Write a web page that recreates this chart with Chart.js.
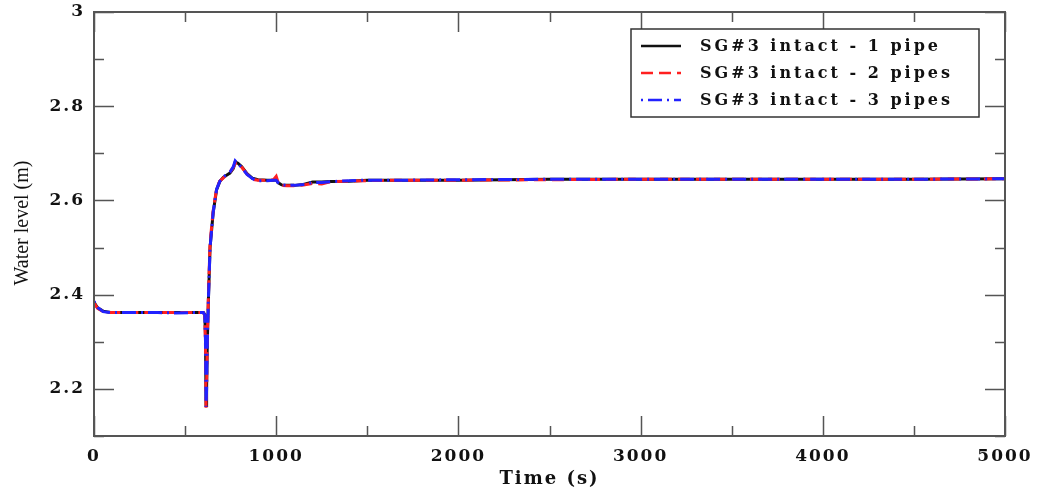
<!DOCTYPE html>
<html>
<head>
<meta charset="utf-8">
<script src="https://cdn.jsdelivr.net/npm/chart.js@4.4.1/dist/chart.umd.min.js"></script>
<style>
  html, body { margin: 0; padding: 0; background: #fff; }
</style>
</head>
<body>
<canvas id="waterLevel" width="1040" height="493"></canvas>
<script>
// time axis (s) shared by all three runs
const timeS = [0, 20, 50, 90, 150, 250, 350, 450, 550, 600, 608, 612, 615, 618, 622, 628, 637, 654, 673, 690, 710, 746, 765, 775, 790, 810, 840, 870, 900, 950, 985, 1000, 1010, 1030, 1060, 1100, 1150, 1200, 1250, 1300, 1400, 1500, 1700, 2000, 2500, 3000, 3500, 4000, 4500, 5000];

const level1Pipe = [2.384, 2.372, 2.365, 2.362, 2.362, 2.362, 2.362, 2.362, 2.362, 2.362, 2.358, 2.31, 2.165, 2.2, 2.3, 2.39, 2.5, 2.574, 2.623, 2.64, 2.649, 2.658, 2.668, 2.682, 2.679, 2.672, 2.657, 2.647, 2.644, 2.643, 2.643, 2.644, 2.638, 2.633, 2.632, 2.632, 2.634, 2.639, 2.639, 2.640, 2.641, 2.643, 2.643, 2.643, 2.645, 2.645, 2.645, 2.645, 2.645, 2.646];
const level2Pipes = [2.382, 2.371, 2.364, 2.362, 2.362, 2.362, 2.362, 2.362, 2.362, 2.362, 2.356, 2.29, 2.16, 2.21, 2.31, 2.4, 2.51, 2.578, 2.625, 2.641, 2.648, 2.66, 2.67, 2.679, 2.68, 2.671, 2.656, 2.645, 2.643, 2.643, 2.644, 2.651, 2.639, 2.632, 2.631, 2.631, 2.633, 2.636, 2.635, 2.640, 2.641, 2.642, 2.643, 2.643, 2.644, 2.645, 2.645, 2.645, 2.645, 2.646];
const level3Pipes = [2.386, 2.373, 2.364, 2.362, 2.362, 2.362, 2.362, 2.361, 2.362, 2.362, 2.357, 2.30, 2.162, 2.2, 2.3, 2.39, 2.5, 2.575, 2.624, 2.64, 2.65, 2.66, 2.672, 2.684, 2.678, 2.67, 2.655, 2.646, 2.642, 2.642, 2.643, 2.643, 2.638, 2.633, 2.632, 2.632, 2.634, 2.638, 2.638, 2.640, 2.642, 2.643, 2.643, 2.644, 2.645, 2.645, 2.645, 2.645, 2.645, 2.646];

const seriesLabels = ["SG#3 intact - 1 pipe", "SG#3 intact - 2 pipes", "SG#3 intact - 3 pipes"];
const xTickLabels = [0, 1000, 2000, 3000, 4000, 5000];
const yTickLabels = [2.2, 2.4, 2.6, 2.8, 3];

const toPoints = (ys) => ys.map((y, i) => ({ x: timeS[i], y: y }));

// box frame, inward ticks on all sides, legend box and the y title
const frameAndLegend = {
  id: "frameAndLegend",
  beforeDraw(chart) {
    const ctx = chart.ctx;
    ctx.save();
    ctx.translate(23, 223);
    ctx.rotate(-Math.PI / 2);
    ctx.font = "20px 'Liberation Serif'";
    ctx.fillStyle = "#111";
    ctx.textAlign = "center";
    ctx.textBaseline = "middle";
    ctx.fillText("Water level (m)", 0, 0);
    ctx.restore();
    ctx.letterSpacing = "2px";
  },
  afterDatasetsDraw(chart) {
    const ctx = chart.ctx;
    const a = chart.chartArea;
    const xs = chart.scales.x;
    const ys = chart.scales.y;
    ctx.save();
    ctx.letterSpacing = "0px";
    ctx.strokeStyle = "#555";
    ctx.lineWidth = 1.5;
    ctx.beginPath();
    xs.ticks.forEach((t) => {
      const px = Math.round(xs.getPixelForValue(t.value)) + 0.5;
      const len = xTickLabels.includes(t.value) ? 20 : 10;
      ctx.moveTo(px, a.bottom); ctx.lineTo(px, a.bottom - len);
      ctx.moveTo(px, a.top); ctx.lineTo(px, a.top + len);
    });
    ys.ticks.forEach((t) => {
      const py = Math.round(ys.getPixelForValue(t.value)) + 0.5;
      const major = yTickLabels.some((v) => Math.abs(v - t.value) < 1e-6);
      const len = major ? 20 : 10;
      ctx.moveTo(a.left, py); ctx.lineTo(a.left + len, py);
      ctx.moveTo(a.right, py); ctx.lineTo(a.right - len, py);
    });
    ctx.stroke();
    ctx.lineWidth = 2;
    ctx.strokeRect(a.left, a.top, a.right - a.left, a.bottom - a.top);

    // legend
    const bx = 631, by = 29, bw = 348, bh = 88;
    ctx.fillStyle = "#fff";
    ctx.fillRect(bx, by, bw, bh);
    ctx.strokeStyle = "#333";
    ctx.lineWidth = 1.5;
    ctx.strokeRect(bx, by, bw, bh);
    ctx.font = "bold 16px 'DejaVu Serif'";
    ctx.textBaseline = "middle";
    ctx.textAlign = "left";
    ctx.letterSpacing = "3px";
    chart.data.datasets.forEach((ds, i) => {
      const yy = by + 17 + i * 27;
      ctx.save();
      ctx.strokeStyle = ds.borderColor;
      ctx.lineWidth = 2.5;
      ctx.setLineDash(ds.borderDash || []);
      ctx.beginPath();
      ctx.moveTo(bx + 10, yy);
      ctx.lineTo(bx + 50, yy);
      ctx.stroke();
      ctx.restore();
      ctx.fillStyle = "#111";
      ctx.fillText(ds.label, bx + 69, yy + 1);
    });
    ctx.restore();
    ctx.letterSpacing = "2px";
  },
  afterDraw(chart) {
    chart.ctx.letterSpacing = "0px";
  }
};

new Chart(document.getElementById("waterLevel"), {
  type: "line",
  data: {
    datasets: [
      {
        label: seriesLabels[0],
        data: toPoints(level1Pipe),
        borderColor: "#111",
        borderWidth: 3,
        pointRadius: 0,
        tension: 0,
        order: 2,
      },
      {
        label: seriesLabels[1],
        data: toPoints(level2Pipes),
        borderColor: "#ff2020",
        borderDash: [12, 6],
        borderWidth: 3,
        pointRadius: 0,
        tension: 0,
        order: 1,
      },
      {
        label: seriesLabels[2],
        data: toPoints(level3Pipes),
        borderColor: "#2222ff",
        borderDash: [2, 5, 14, 5],
        borderWidth: 3,
        pointRadius: 0,
        tension: 0,
        order: 0,
      },
    ],
  },
  options: {
    responsive: false,
    animation: false,
    devicePixelRatio: 1,
    layout: { padding: { top: 12, right: 35, left: 0, bottom: 0 } },
    plugins: { legend: { display: false }, tooltip: { enabled: false } },
    scales: {
      x: {
        type: "linear",
        min: 0,
        max: 5000,
        afterFit: (s) => { s.height = 57; s.paddingLeft = 0; s.paddingRight = 0; },
        grid: { display: false, drawTicks: false },
        border: { display: false },
        ticks: {
          z: 1,
          stepSize: 500,
          padding: 10,
          color: "#111",
          font: { family: "'DejaVu Serif'", size: 17, weight: "bold" },
          maxRotation: 0,
          autoSkip: false,
          callback: (v) => (xTickLabels.includes(v) ? String(v) : ""),
        },
        title: {
          display: true,
          text: "Time (s)",
          color: "#111",
          font: { family: "'DejaVu Serif'", size: 18, weight: "bold" },
          padding: { top: 0, bottom: 3 },
        },
      },
      y: {
        min: 2.1,
        max: 3,
        afterFit: (s) => { s.width = 94; s.paddingTop = 0; s.paddingBottom = 0; },
        grid: { display: false, drawTicks: false },
        border: { display: false },
        ticks: {
          z: 1,
          stepSize: 0.1,
          padding: 9,
          color: "#111",
          font: { family: "'DejaVu Serif'", size: 17, weight: "bold" },
          autoSkip: false,
          callback: (v) => {
            const hit = yTickLabels.find((t) => Math.abs(t - v) < 1e-6);
            return hit === undefined ? "" : (hit === 3 ? "3" : hit.toFixed(1));
          },
        },
      },
    },
  },
  plugins: [frameAndLegend],
});
</script>
</body>
</html>
